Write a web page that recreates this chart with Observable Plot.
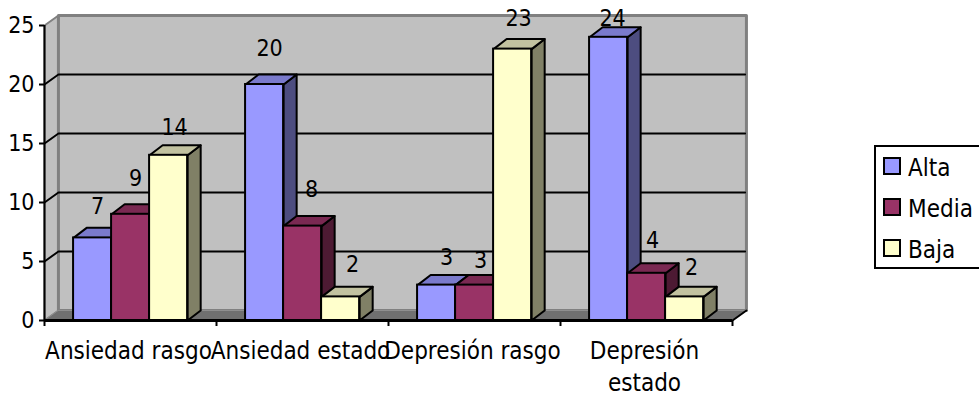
<!DOCTYPE html>
<html>
<head>
<meta charset="utf-8">
<script src="https://cdn.jsdelivr.net/npm/d3@7"></script>
<script src="https://cdn.jsdelivr.net/npm/@observablehq/plot@0.6"></script>
<style>
  html, body { margin: 0; padding: 0; background: #fff; overflow: hidden; }
  #chart { position: relative; width: 979px; height: 396px; overflow: hidden; }
  svg { display: block; }
  .legend { position: absolute; left: 874px; top: 145px; width: 120px; height: 120px;
            border: 2px solid #000; background: #fff; font: 24px "DejaVu Sans Condensed", "DejaVu Sans", sans-serif; font-stretch: condensed; }
  .legend div { position: absolute; left: 32px; line-height: 24px; color: #000; }
  .legend i { position: absolute; left: -25px; top: 1px; width: 14px; height: 14px;
              border: 2px solid #000; box-sizing: content-box; }
</style>
</head>
<body>
<div id="chart"></div>
<script>
const categories = ["Ansiedad rasgo", "Ansiedad estado", "Depresión rasgo", "Depresión\nestado"];
const seriesNames = ["Alta", "Media", "Baja"];
const alta = [7, 20, 3, 24];
const media = [9, 8, 3, 4];
const baja = [14, 2, 23, 2];
const valueTicks = [0, 5, 10, 15, 20, 25];

// Front, top and side shades of each series.
const frontColors = ["#9999FF", "#993366", "#FFFFCC"];
const topColors = ["#7A7ACC", "#7A2952", "#C2C2A0"];
const sideColors = ["#4D4D80", "#4D1A33", "#808066"];

// Small per-label nudges in pixels, so that the value labels sit clear of the bars.
const labelNudges = [
  [[5, -31], [5, -36], [6, -28]],
  [[5, -36], [9, -36], [12, -32]],
  [[10, -27], [6, -24], [6, -30]],
  [[4, -19], [6, -33], [7, -29]]
];

// Oblique depth of the box and of the bars, in data units of each axis.
const wallX = 0.081, wallY = 0.85;
const barX = 0.076, barY = 0.85;
const gap = 0.169, barWidth = 0.221;

const polygon = (points, fill, stroke, strokeWidth = 2) =>
  Plot.line(points.map(([x, y]) => ({x, y})), {
    x: "x", y: "y", fill, stroke, strokeWidth, curve: "linear-closed"
  });

const maxValue = valueTicks[valueTicks.length - 1];
const end = categories.length;

const box = [
  polygon([[0, 0], [wallX, wallY], [wallX, maxValue + wallY], [0, maxValue]], "#C0C0C0", "#808080", 2),
  polygon([[wallX, wallY], [end + wallX, wallY], [end + wallX, maxValue + wallY], [wallX, maxValue + wallY]], "#C0C0C0", "#808080", 3),
  polygon([[0, 0], [end, 0], [end + wallX, wallY], [wallX, wallY]], "#707070", "#909090", 1),
  Plot.line([[end, 0], [end + wallX, wallY]].map(([x, y]) => ({x, y})), {x: "x", y: "y", stroke: "#000", strokeWidth: 2})
];

const gridlines = valueTicks.filter((v) => v > 0 && v < maxValue).map((v) =>
  Plot.line([[0, v], [wallX, v + wallY], [end + wallX - 0.008, v + wallY]].map(([x, y]) => ({x, y})),
    {x: "x", y: "y", stroke: "#000", strokeWidth: 2})
);

const values = [alta, media, baja];

const bars = categories.flatMap((_, c) => values.flatMap((series, s) => {
  const v = series[c];
  const x1 = c + gap + s * barWidth;
  const x2 = x1 + barWidth;
  return [
    polygon([[x2, 0], [x2 + barX, barY], [x2 + barX, v + barY], [x2, v]], sideColors[s], "#000"),
    polygon([[x1, v], [x2, v], [x2 + barX, v + barY], [x1 + barX, v + barY]], topColors[s], "#000"),
    Plot.rect([{x1, x2, y2: v}], {x1: "x1", x2: "x2", y1: 0, y2: "y2", fill: frontColors[s], stroke: "#000", strokeWidth: 2})
  ];
}));

const valueLabels = categories.flatMap((_, c) => values.map((series, s) => {
  const [dx, dy] = labelNudges[c][s];
  return Plot.text([{x: c + gap + (s + 0.5) * barWidth, y: series[c], t: String(series[c])}], {
    x: "x", y: "y", text: "t", dx, dy, fontSize: 23, fill: "#000", lineAnchor: "middle"
  });
}));

const plot = Plot.plot({
  width: 979,
  height: 396,
  marginLeft: 44,
  marginRight: 247,
  marginTop: 25,
  marginBottom: 76,
  style: {fontFamily: '"DejaVu Sans Condensed", "DejaVu Sans", sans-serif', fontStretch: "condensed", background: "#fff", color: "#000", overflow: "visible"},
  x: {domain: [0, end]},
  y: {domain: [0, maxValue]},
  marks: [
    ...box,
    ...gridlines,
    ...bars,
    Plot.ruleX([0], {stroke: "#000", strokeWidth: 2}),
    Plot.ruleY([0], {stroke: "#000", strokeWidth: 3}),
    Plot.axisY({ticks: valueTicks, tickSize: 5, tickPadding: 5, fontSize: 23, strokeWidth: 2, label: null, tickFormat: (d) => d}),
    Plot.axisX({ticks: d3.range(end + 1), tickSize: 6, tickFormat: () => "", strokeWidth: 2, label: null}),
    Plot.text(categories, {
      x: (_, i) => i + 0.5, y: 0, dx: -2, dy: 15, text: (d) => d, fontSize: 24, lineHeight: 1.36,
      textAnchor: "middle", lineAnchor: "top", fill: "#000"
    }),
    ...valueLabels
  ]
});

const chart = document.getElementById("chart");
chart.append(plot);

// Legend box at the right of the plot, built from the same series colours.
const legend = document.createElement("div");
legend.className = "legend";
seriesNames.forEach((name, i) => {
  const row = document.createElement("div");
  row.style.top = `${9 + i * 41}px`;
  row.textContent = name;
  const swatch = document.createElement("i");
  swatch.style.background = frontColors[i];
  row.prepend(swatch);
  legend.append(row);
});
chart.append(legend);
</script>
</body>
</html>
